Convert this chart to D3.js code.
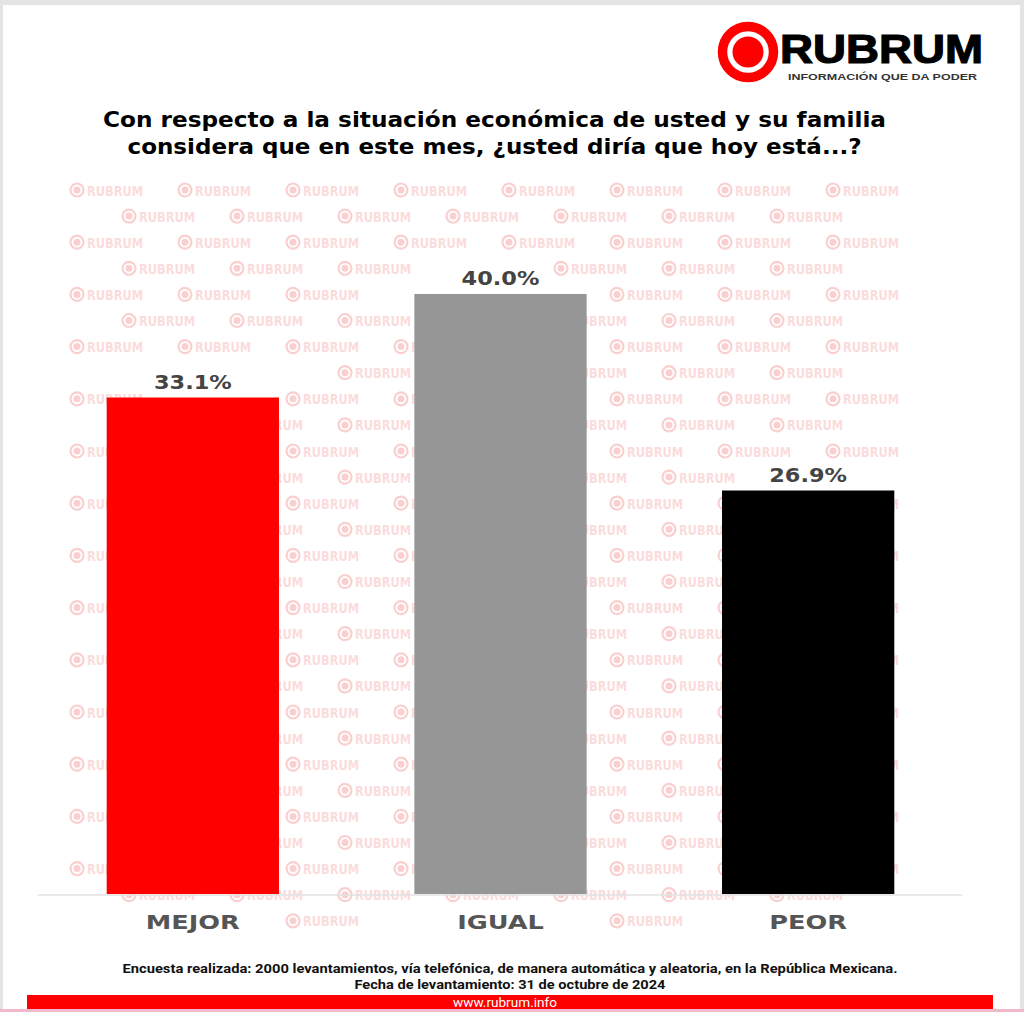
<!DOCTYPE html>
<html>
<head>
<meta charset="utf-8">
<script src="https://cdn.jsdelivr.net/npm/d3@7"></script>
<style>
  html, body { margin: 0; padding: 0; background: #e4e4e4; }
  svg { display: block; }
</style>
</head>
<body>
<svg id="chart" width="1024" height="1012"></svg>
<script>
const categories = ["MEJOR", "IGUAL", "PEOR"];
const values = [33.1, 40.0, 26.9];
const barColors = ["#ff0000", "#969696", "#000000"];
const titleLines = [
  "Con respecto a la situación económica de usted y su familia",
  "considera que en este mes, ¿usted diría que hoy está...?"
];
const footerLines = [
  "Encuesta realizada: 2000 levantamientos, vía telefónica, de manera automática y aleatoria, en  la República Mexicana.",
  "Fecha de levantamiento: 31 de octubre de 2024"
];
const siteUrl = "www.rubrum.info";
const brandName = "RUBRUM";
const brandTagline = "INFORMACIÓN QUE DA PODER";

const svg = d3.select("#chart");
const W = 1024, H = 1012;

// page background / frame
svg.append("rect").attr("x", 0).attr("y", 0).attr("width", W).attr("height", H).attr("fill", "#e4e4e4");
svg.append("rect").attr("x", 3).attr("y", 5).attr("width", 1017).attr("height", 1004).attr("fill", "#ffffff");
svg.append("rect").attr("x", 0).attr("y", 1009).attr("width", W).attr("height", 3).attr("fill", "#f2b9cb");

// watermark layer (filled later, drawn behind everything)
const wm = svg.append("g").attr("class", "watermark");

// logo
const logo = svg.append("g").attr("class", "logo");
logo.append("circle").attr("cx", 748).attr("cy", 52).attr("r", 25.5)
  .attr("fill", "none").attr("stroke", "#ff0000").attr("stroke-width", 9.5);
logo.append("circle").attr("cx", 748).attr("cy", 52).attr("r", 15.5).attr("fill", "#ff0000");
logo.append("text").attr("x", 780).attr("y", 63)
  .attr("font-family", "'Liberation Sans', Arial, sans-serif").attr("font-weight", "bold")
  .attr("font-size", 40).attr("fill", "#000")
  .attr("stroke", "#000").attr("stroke-width", 1.2)
  .attr("textLength", 203).attr("lengthAdjust", "spacingAndGlyphs")
  .text(brandName);
logo.append("text").attr("x", 788).attr("y", 80)
  .attr("font-family", "'Liberation Sans', Arial, sans-serif").attr("font-weight", "bold")
  .attr("font-size", 9.5).attr("fill", "#333")
  .attr("textLength", 189).attr("lengthAdjust", "spacingAndGlyphs")
  .text(brandTagline);

// title
const titleSpecs = [{ y: 127, len: 783 }, { y: 154, len: 734 }];
titleLines.forEach((t, i) => {
  svg.append("text").attr("x", 494.5).attr("y", titleSpecs[i].y)
    .attr("text-anchor", "middle")
    .attr("font-family", "'DejaVu Sans', sans-serif").attr("font-weight", "bold")
    .attr("font-size", 20.5).attr("fill", "#000")
    .attr("textLength", titleSpecs[i].len).attr("lengthAdjust", "spacingAndGlyphs")
    .text(t);
});

// scales
const x = d3.scaleBand().domain(categories).range([39, 962]).paddingInner(0.44).paddingOuter(0.22);
const y = d3.scaleLinear().domain([0, 40]).range([894, 294]);

// axis baseline
svg.append("line").attr("x1", 38).attr("x2", 962).attr("y1", 895).attr("y2", 895)
  .attr("stroke", "#e2e2e2").attr("stroke-width", 1.5);

// bars
svg.append("g").selectAll("rect").data(categories).join("rect")
  .attr("x", d => x(d)).attr("width", x.bandwidth())
  .attr("y", (d, i) => y(values[i])).attr("height", (d, i) => y(0) - y(values[i]))
  .attr("fill", (d, i) => barColors[i]);

// value labels
const fmt = d3.format(".1f");
const valueLabels = svg.append("g").selectAll("text").data(categories).join("text")
  .attr("x", d => x(d) + x.bandwidth() / 2)
  .attr("y", (d, i) => y(values[i]) - 9)
  .attr("text-anchor", "middle")
  .attr("font-family", "'DejaVu Sans', sans-serif").attr("font-weight", "bold")
  .attr("font-size", 19).attr("fill", "#444")
  .text((d, i) => fmt(values[i]) + "%")
  .each(function () {
    const w = this.getComputedTextLength();
    d3.select(this).attr("textLength", w * 1.18).attr("lengthAdjust", "spacingAndGlyphs");
  });

// category labels (axis)
const xAxis = d3.axisBottom(x).tickSize(0).tickPadding(0);
const ax = svg.append("g").attr("transform", "translate(0,895)").call(xAxis);
ax.select(".domain").remove();
ax.selectAll("text")
  .attr("y", 34).attr("dy", null)
  .attr("font-family", "'DejaVu Sans', sans-serif").attr("font-weight", "bold")
  .attr("font-size", 20).attr("fill", "#555")
  .each(function () {
    const w = this.getComputedTextLength();
    d3.select(this).attr("textLength", w * 1.28).attr("lengthAdjust", "spacingAndGlyphs");
  });

// label boxes (watermark is knocked out behind labels, as in the original)
const svgRect = svg.node().getBoundingClientRect();
const boxes = [];
function pushBox(node) {
  const b = node.getBoundingClientRect();
  boxes.push({ x: b.left - svgRect.left, y: b.top - svgRect.top, width: b.width, height: b.height });
}
valueLabels.each(function () { pushBox(this); });
ax.selectAll("text").each(function () { pushBox(this); });
function hits(bx) {
  return boxes.some(b => bx.x < b.x + b.width + 3 && bx.x + bx.w > b.x - 3 &&
                         bx.y < b.y + b.height + 1 && bx.y + bx.h > b.y - 1);
}

// watermark
const wmText = "#fbdcdc", wmRing = "#f9cfcf";
for (let r = 0; r <= 28; r++) {
  const yy = 190 + r * 26.1;
  const even = r % 2 === 0;
  const startX = even ? 77 : 129;
  const n = even ? 8 : 7;
  for (let k = 0; k < n; k++) {
    const cx = startX + k * 108;
    if (hits({ x: cx - 8, y: yy - 10, w: 76, h: 20 })) continue;
    const g = wm.append("g");
    g.append("circle").attr("cx", cx).attr("cy", yy).attr("r", 6.5)
      .attr("fill", "none").attr("stroke", wmRing).attr("stroke-width", 2.2);
    g.append("circle").attr("cx", cx).attr("cy", yy).attr("r", 3.5).attr("fill", wmRing);
    g.append("text").attr("x", cx + 10).attr("y", yy + 5.5)
      .attr("font-family", "'DejaVu Sans', sans-serif").attr("font-weight", "bold")
      .attr("font-size", 14).attr("fill", wmText)
      .attr("textLength", 56).attr("lengthAdjust", "spacingAndGlyphs")
      .text(brandName);
  }
}

// footer
const footSpecs = [{ y: 973, len: 775 }, { y: 989, len: 311 }];
footerLines.forEach((t, i) => {
  svg.append("text").attr("x", 510).attr("y", footSpecs[i].y)
    .attr("text-anchor", "middle")
    .attr("font-family", "'Liberation Sans Narrow', 'Roboto', sans-serif").attr("font-weight", "bold")
    .attr("font-size", 12).attr("fill", "#111")
    .attr("textLength", footSpecs[i].len).attr("lengthAdjust", "spacingAndGlyphs")
    .text(t);
});

svg.append("rect").attr("x", 27).attr("y", 995).attr("width", 966).attr("height", 14).attr("fill", "#ff0000");
svg.append("text").attr("x", 505).attr("y", 1006.5).attr("text-anchor", "middle")
  .attr("font-family", "'Liberation Sans Narrow', 'Roboto', sans-serif")
  .attr("font-size", 12).attr("fill", "#fff")
  .attr("textLength", 104).attr("lengthAdjust", "spacingAndGlyphs")
  .text(siteUrl);
</script>
</body>
</html>
